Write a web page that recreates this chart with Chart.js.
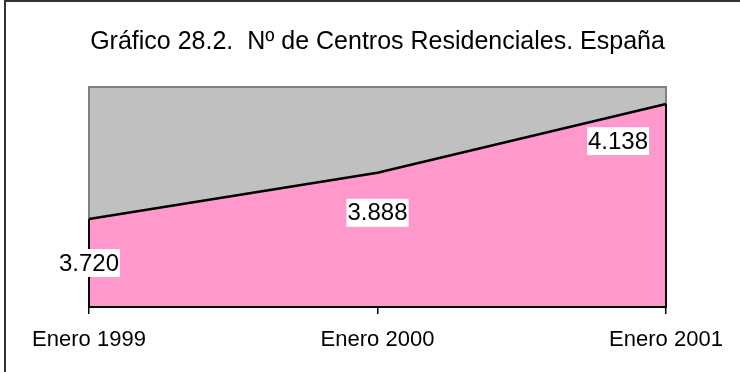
<!DOCTYPE html>
<html>
<head>
<meta charset="utf-8">
<script src="https://cdn.jsdelivr.net/npm/chart.js@4"></script>
<style>
  html, body { margin: 0; padding: 0; background: #fff; }
  #wrap { position: relative; width: 740px; height: 372px; }
</style>
</head>
<body>
<div id="wrap"><canvas id="chart"></canvas></div>
<script>
// Nº de centros residenciales, España
const periods = ['Enero 1999', 'Enero 2000', 'Enero 2001'];
const centros = [3720, 3888, 4138];
const yMin = 3400;
const yMax = 4200;

const FONT = '"Liberation Sans", Arial, Helvetica, sans-serif';

// where each value box sits relative to its point (px)
const labelShift = [[0, 44], [0, 40], [-48, 37]];

function fmtEs(v) {
  return String(v).replace(/\B(?=(\d{3})+(?!\d))/g, '.');
}

const frame = {
  id: 'frame',
  beforeDatasetsDraw(chart) {
    const { ctx, chartArea: a } = chart;
    ctx.save();
    ctx.fillStyle = '#C0C0C0';
    ctx.fillRect(a.left, a.top, a.right - a.left, a.bottom - a.top);
    ctx.strokeStyle = '#808080';
    ctx.lineWidth = 2;
    ctx.strokeRect(a.left, a.top, a.right - a.left, a.bottom - a.top);
    ctx.restore();
  },
  afterDatasetsDraw(chart) {
    const { ctx, chartArea: a } = chart;
    const pts = chart.getDatasetMeta(0).data;
    const first = pts[0], last = pts[pts.length - 1];
    ctx.save();
    ctx.strokeStyle = '#000';
    ctx.lineWidth = 2;
    ctx.beginPath();
    ctx.moveTo(first.x, first.y);
    ctx.lineTo(first.x, a.bottom);
    ctx.lineTo(last.x, a.bottom);
    ctx.lineTo(last.x, last.y);
    ctx.stroke();

    // value boxes
    ctx.font = '24px ' + FONT;
    ctx.textAlign = 'center';
    ctx.textBaseline = 'middle';
    pts.forEach((p, i) => {
      const txt = fmtEs(centros[i]);
      const w = ctx.measureText(txt).width + 2;
      const cx = p.x + labelShift[i][0];
      const cy = p.y + labelShift[i][1];
      ctx.fillStyle = '#fff';
      ctx.fillRect(cx - w / 2, cy - 14, w, 28);
      ctx.fillStyle = '#000';
      ctx.fillText(txt, cx, cy + 1);
    });
    ctx.restore();
  },
  afterDraw(chart) {
    const { ctx } = chart;
    ctx.save();
    ctx.strokeStyle = '#333';
    ctx.lineWidth = 2;
    ctx.beginPath();
    ctx.moveTo(5, 372);
    ctx.lineTo(5, 1);
    ctx.lineTo(740, 1);
    ctx.stroke();
    ctx.restore();
  }
};

new Chart(document.getElementById('chart'), {
  type: 'line',
  data: {
    labels: periods,
    datasets: [{
      data: centros,
      fill: 'start',
      backgroundColor: '#FF99CC',
      borderColor: '#000',
      borderWidth: 2.5,
      pointRadius: 0,
      tension: 0
    }]
  },
  options: {
    responsive: true,
    maintainAspectRatio: false,
    animation: false,
    layout: { padding: { left: 89, right: 74, top: 0, bottom: 0 } },
    plugins: {
      legend: { display: false },
      tooltip: { enabled: false },
      title: {
        display: true,
        text: 'Gráfico 28.2.  Nº de Centros Residenciales. España',
        color: '#000',
        font: { family: FONT, size: 25, weight: 'normal', lineHeight: 1.2 },
        padding: { top: 27, bottom: 30 }
      }
    },
    scales: {
      x: {
        afterFit: s => { s.height = 65; },
        grid: { display: true, drawOnChartArea: false, drawTicks: true, tickLength: 7, color: '#000', lineWidth: 1.5 },
        border: { display: true, color: '#000', width: 2 },
        ticks: { color: '#000', padding: 13, maxRotation: 0, autoSkip: false, font: { family: FONT, size: 22 } }
      },
      y: {
        display: false,
        min: yMin,
        max: yMax
      }
    }
  },
  plugins: [frame]
});
</script>
</body>
</html>
